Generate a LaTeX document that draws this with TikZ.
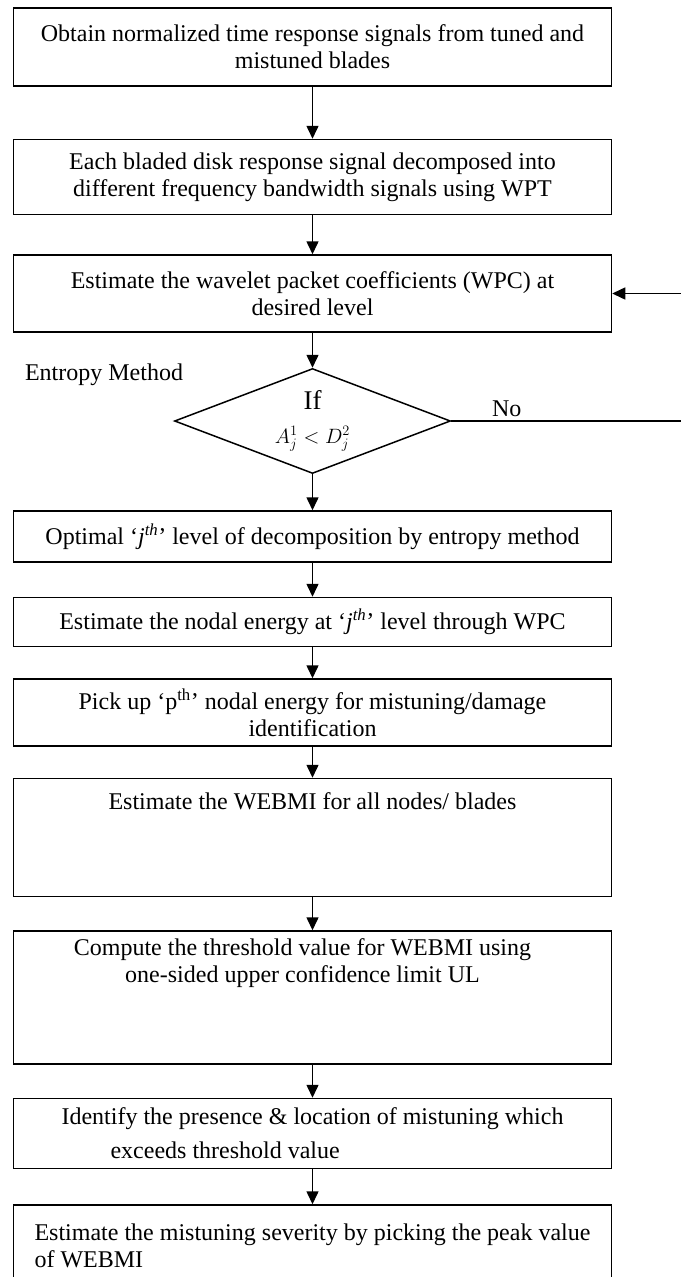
\documentclass[tikz,border=0pt]{standalone}
\usepackage{amsmath}
\usepackage{fontspec}
\setmainfont{Liberation Serif}
\usetikzlibrary{positioning,shapes.geometric,arrows.meta}

\tikzset{
  stepbox/.style={draw,line width=1.5pt,minimum width=598pt,align=center,inner sep=4pt,
    font=\fontsize{24}{27}\selectfont},
  decide/.style={draw,diamond,line width=1.5pt,minimum width=276pt,minimum height=105pt,
    aspect=2.6,inner sep=0pt,align=center},
  arr/.style={line width=1.5pt,-{Triangle[length=13pt,width=12pt]}},
}

\begin{document}
\begin{tikzpicture}[x=1pt,y=-1pt]
    \useasboundingbox (0,0) rectangle (680,1277);
    \node[stepbox,minimum height=78pt] (obtain) at (312.5,47) {Obtain normalized time response signals from tuned and\\mistuned blades};
    \node[stepbox,minimum height=75pt,below=52pt of obtain] (wpt) {Each bladed disk response signal decomposed into\\different frequency bandwidth signals using WPT};
    \node[stepbox,minimum height=77pt,below=39pt of wpt] (wpc) {Estimate the wavelet packet coefficients (WPC) at\\desired level};
    \node[decide,below=35pt of wpc] (check) {{\fontsize{27}{28}\selectfont If}\\[16pt]{\fontsize{20}{22}\selectfont $A_j^1 < D_j^2$}};
    \node[font=\fontsize{24}{27}\selectfont] (method) at (104,375) {Entropy Method};
    \node[stepbox,minimum height=51pt,below=36pt of check] (optimal) {Optimal ‘\textit{j}\textsuperscript{\textit{th}}’ level of decomposition by entropy method};
    \node[stepbox,minimum height=49pt,below=34pt of optimal] (nodal) {Estimate the nodal energy at ‘\textit{j}\textsuperscript{\textit{th}}’ level through WPC};
    \node[stepbox,minimum height=67pt,below=31pt of nodal] (pick) {Pick up ‘p\textsuperscript{th}’ nodal energy for mistuning/damage\\identification};
    \node[stepbox,below=31pt of pick] (webmi) {\parbox[c][110pt][t]{590pt}{\vspace*{10pt}\centering Estimate the WEBMI for all nodes/ blades}};
    \node[stepbox,below=33pt of webmi] (limit) {\parbox[c][125pt][t]{590pt}{\vspace*{4pt}\centering\rightskip=20pt plus 1fil Compute the threshold value for WEBMI using\\one-sided upper confidence limit UL}};
    \node[stepbox,minimum height=70pt,align=left,below=33pt of limit] (locate) {Identify the presence \& location of mistuning which\\[7pt]\hspace*{49pt}exceeds threshold value};
    \node[stepbox,minimum height=82pt,align=left,below=35pt of locate] (severity) {Estimate the mistuning severity by picking the peak value\\of WEBMI};

    %% main flow
    \draw[arr] (obtain) -- (wpt);
    \draw[arr] (wpt) -- (wpc);
    \draw[arr] (wpc) -- (check);
    \draw[arr] (check) -- (optimal);
    \draw[arr] (optimal) -- (nodal);
    \draw[arr] (nodal) -- (pick);
    \draw[arr] (pick) -- (webmi);
    \draw[arr] (webmi) -- (limit);
    \draw[arr] (limit) -- (locate);
    \draw[arr] (locate) -- (severity);
    %% back to WPC
    \draw[arr] (check.east) -- node[above,pos=0.24,font=\fontsize{24}{27}\selectfont] (no) {No} ++(231pt,0) |- (wpc.east);
\end{tikzpicture}
\end{document}
